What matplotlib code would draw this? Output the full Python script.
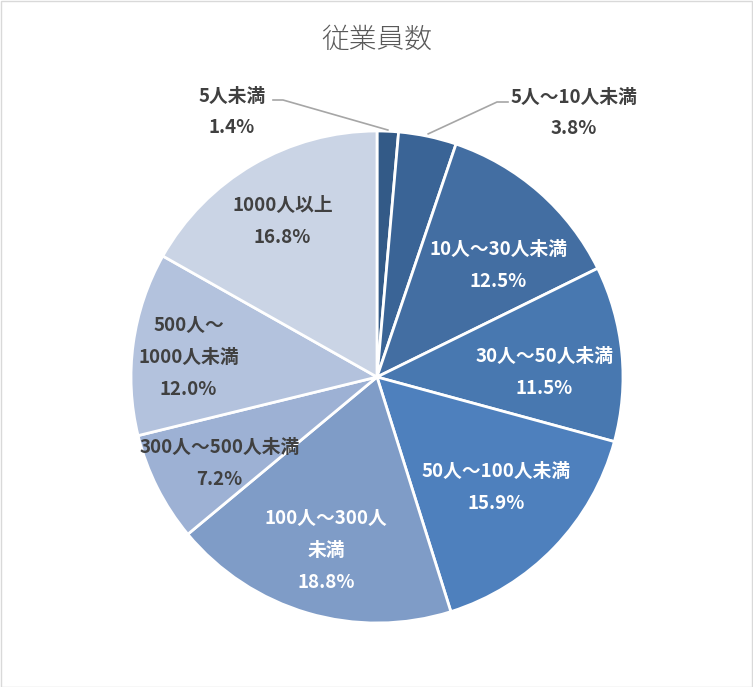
import numpy as np
import matplotlib
matplotlib.use("Agg")
import matplotlib.pyplot as plt

plt.rcParams['font.family'] = ['Noto Sans CJK JP', 'DejaVu Sans']

title = "従業員数"
categories = ["5人未満", "5人～10人未満", "10人～30人未満", "30人～50人未満",
              "50人～100人未満", "100人～300人\n未満", "300人～500人未満",
              "500人～\n1000人未満", "1000人以上"]
values = [1.4, 3.8, 12.5, 11.5, 15.9, 18.8, 7.2, 12.0, 16.8]

colors = ["#335a87", "#3a6496", "#436ea2", "#4878b0", "#4e80bd",
          "#7f9cc7", "#9db1d4", "#b3c2dd", "#cad4e5"]
text_colors = ["#404040", "#404040", "white", "white", "white",
               "white", "#404040", "#404040", "#404040"]
# label placement (radius fraction, angle offset deg) -- styling only
label_dist = [None, None, 0.67, 0.68, 0.66, 0.735, 0.73, 0.77, 0.74]
label_dang = [0, 0, 6, 4, -1, 0, -2, -2, -1]

W, H = 753, 687
fig = plt.figure(figsize=(W / 100, H / 100), dpi=100)
fig.patch.set_facecolor("white")
# border
fig.add_artist(plt.Rectangle((0.5 / W, 0.5 / H), 1 - 1.5 / W, 1 - 1.5 / H,
                             transform=fig.transFigure, fill=False,
                             edgecolor="#d9d9d9", linewidth=1))

cx, cy, r = 377, 687 - 377, 246
ax = fig.add_axes([(cx - r) / W, (cy - r) / H, 2 * r / W, 2 * r / H])
wedges, _ = ax.pie(values, colors=colors, startangle=90, counterclock=False,
                   radius=1.0, wedgeprops=dict(edgecolor="white", linewidth=2),
                   normalize=True)
ax.set_xlim(-1, 1)
ax.set_ylim(-1, 1)
ax.set_aspect("equal")
ax.axis("off")

fs = 13.5
ls = 1.85
for i, w in enumerate(wedges):
    mid = np.deg2rad((w.theta1 + w.theta2) / 2 - label_dang[i])
    txt = f"{categories[i]}\n{values[i]:.1f}%"
    if label_dist[i] is not None:
        d = label_dist[i]
        ax.text(d * np.cos(mid), d * np.sin(mid), txt, ha="center", va="center",
                fontsize=fs, fontweight="bold", color=text_colors[i],
                linespacing=ls)

# outside labels with leader lines (in pixel-derived data units)
def px(x, y):
    return ((x - 377) / r, (377 - y) / r)

# 5人未満
m0 = np.deg2rad((wedges[0].theta1 + wedges[0].theta2) / 2)
e0 = (1.0 * np.cos(m0), 1.0 * np.sin(m0))
lx, ly = px(232, 112)
ax.text(lx, ly, f"{categories[0]}\n{values[0]:.1f}%", ha="center", va="center",
        fontsize=fs, fontweight="bold", color=text_colors[0], linespacing=ls)
a = px(273, 100); b = px(283, 100)
ax.plot([a[0], b[0], e0[0] * 1.005], [a[1], b[1], e0[1] * 1.005],
        color="#a6a6a6", lw=1.2, clip_on=False)

# 5人～10人未満
m1 = np.deg2rad((wedges[1].theta1 + wedges[1].theta2) / 2)
e1 = (1.0 * np.cos(m1), 1.0 * np.sin(m1))
lx, ly = px(574, 113)
ax.text(lx, ly, f"{categories[1]}\n{values[1]:.1f}%", ha="center", va="center",
        fontsize=fs, fontweight="bold", color=text_colors[1], linespacing=ls)
a = px(508, 102); b = px(497, 102)
ax.plot([a[0], b[0], e1[0] * 1.01], [a[1], b[1], e1[1] * 1.01],
        color="#a6a6a6", lw=1.2, clip_on=False)

fig.text(377 / W, 1 - 40 / H, title, ha="center", va="center",
         fontsize=20, color="#595959", fontweight="light")

fig.savefig("out.png", dpi=100, facecolor="white")
